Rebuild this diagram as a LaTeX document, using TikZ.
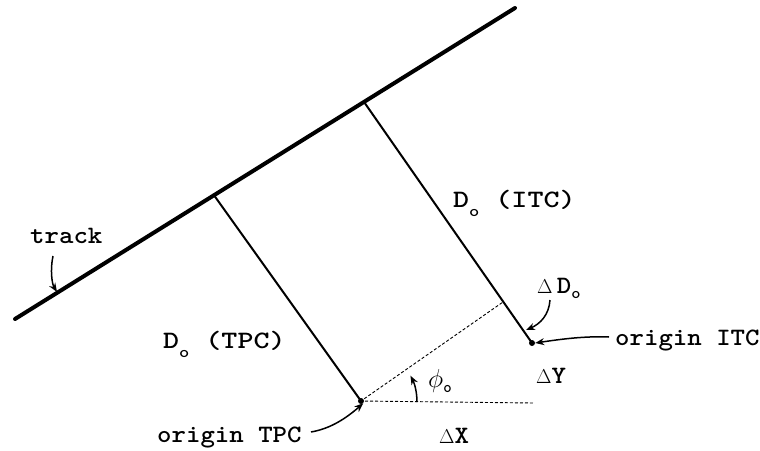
\RequirePackage{fix-cm}
\documentclass[tikz,border=0pt]{standalone}
\usepackage{graphicx}
\usetikzlibrary{arrows.meta,calc}
\newcommand{\wideTxt}[1]{\scalebox{1.1}[1]{#1}}
\newcommand{\widerTxt}[1]{\scalebox{1.22}[1]{#1}}
\newcommand{\subLow}[2]{\raisebox{#1}{\fontsize{16}{16}\selectfont #2}}
\newcommand{\dlt}{{\fontsize{20}{22}\selectfont$\Delta$}}
\begin{document}
\begin{tikzpicture}[x=1pt,y=-1pt,
  lbl/.style={inner sep=0pt,anchor=base west,font=\fontsize{25}{29}\ttfamily\bfseries},
  trk/.style={line width=4pt,line cap=round},
  perp/.style={line width=2pt},
  dotln/.style={line width=0.9pt,dash pattern=on 3pt off 2pt},
  callout/.style={line width=1.5pt,-{Stealth[length=9pt,width=7pt]}},
  dotmark/.style={circle,fill=black,inner sep=0pt,minimum size=6pt}]
\useasboundingbox (0,0) rectangle (760,450);

% track
\coordinate (T1) at (15,319);
\coordinate (T2) at (515,8);
\draw[trk] (T1) -- (T2);
\coordinate (tpcFoot) at ($(T1)!0.398!(T2)$);
\coordinate (itcFoot) at ($(T1)!0.698!(T2)$);

% origins
\node[dotmark] (tpc) at (361,401) {};
\node[dotmark] (itc) at (532,343) {};

\draw[perp] (tpcFoot) -- (tpc.center);
\draw[perp] (itcFoot) -- (itc.center);

% dotted lines
\coordinate (proj) at ($(itcFoot)!(tpc.center)!(itc.center)$);
\coordinate (hEnd) at (533,403);
\draw[dotln,shorten <=4pt] (tpc.center) -- (proj);
\draw[dotln,shorten <=4pt] (tpc.center) -- (hEnd);

% labels
\node[lbl] (trackLab) at (30,243) {\wideTxt{track}};
\node[lbl] (tpcLab) at (163,348) {\widerTxt{D\subLow{-9pt}{o} (TPC)}};
\node[lbl] (itcLab) at (453,207) {\widerTxt{D\subLow{-9pt}{o} (ITC)}};
\node[lbl] (dDLab) at (537,293) {\dlt\,\wideTxt{D\subLow{-5pt}{o}}};
\node[lbl] (oItcLab) at (615,345) {\wideTxt{origin ITC}};
\node[lbl] (dYLab) at (536,383) {\dlt\wideTxt{Y}};
\node[lbl] (phiLab) at (428,387) {{\fontsize{26}{28}\selectfont$\phi$}\subLow{-5pt}{o}};
\node[lbl] (oTpcLab) at (157,442) {\wideTxt{origin TPC}};
\node[lbl] (dXLab) at (439,443) {\dlt\wideTxt{X}};

% callout arrows
\coordinate (trackA) at (53,256);
\coordinate (trackB) at (57,292);
\draw[callout] (trackA) .. controls (50,270) and (52,284) .. (trackB);

\coordinate (dDA) at (550,300);
\coordinate (dDB) at (526,330);
\draw[callout] (dDA) .. controls (549,315) and (540,324) .. (dDB);

\coordinate (oItcA) at (609,337);
\draw[callout] (oItcA) .. controls (585,336) and (562,339) .. (itc.east);

\coordinate (oTpcA) at (311,432);
\draw[callout] (oTpcA) .. controls (328,429) and (343,421) .. (tpc.south east);

% angle phi
\draw[callout] ($(tpc.center)+(56,1)$) arc[start angle=0,end angle=-28,radius=56];
\end{tikzpicture}
\end{document}
